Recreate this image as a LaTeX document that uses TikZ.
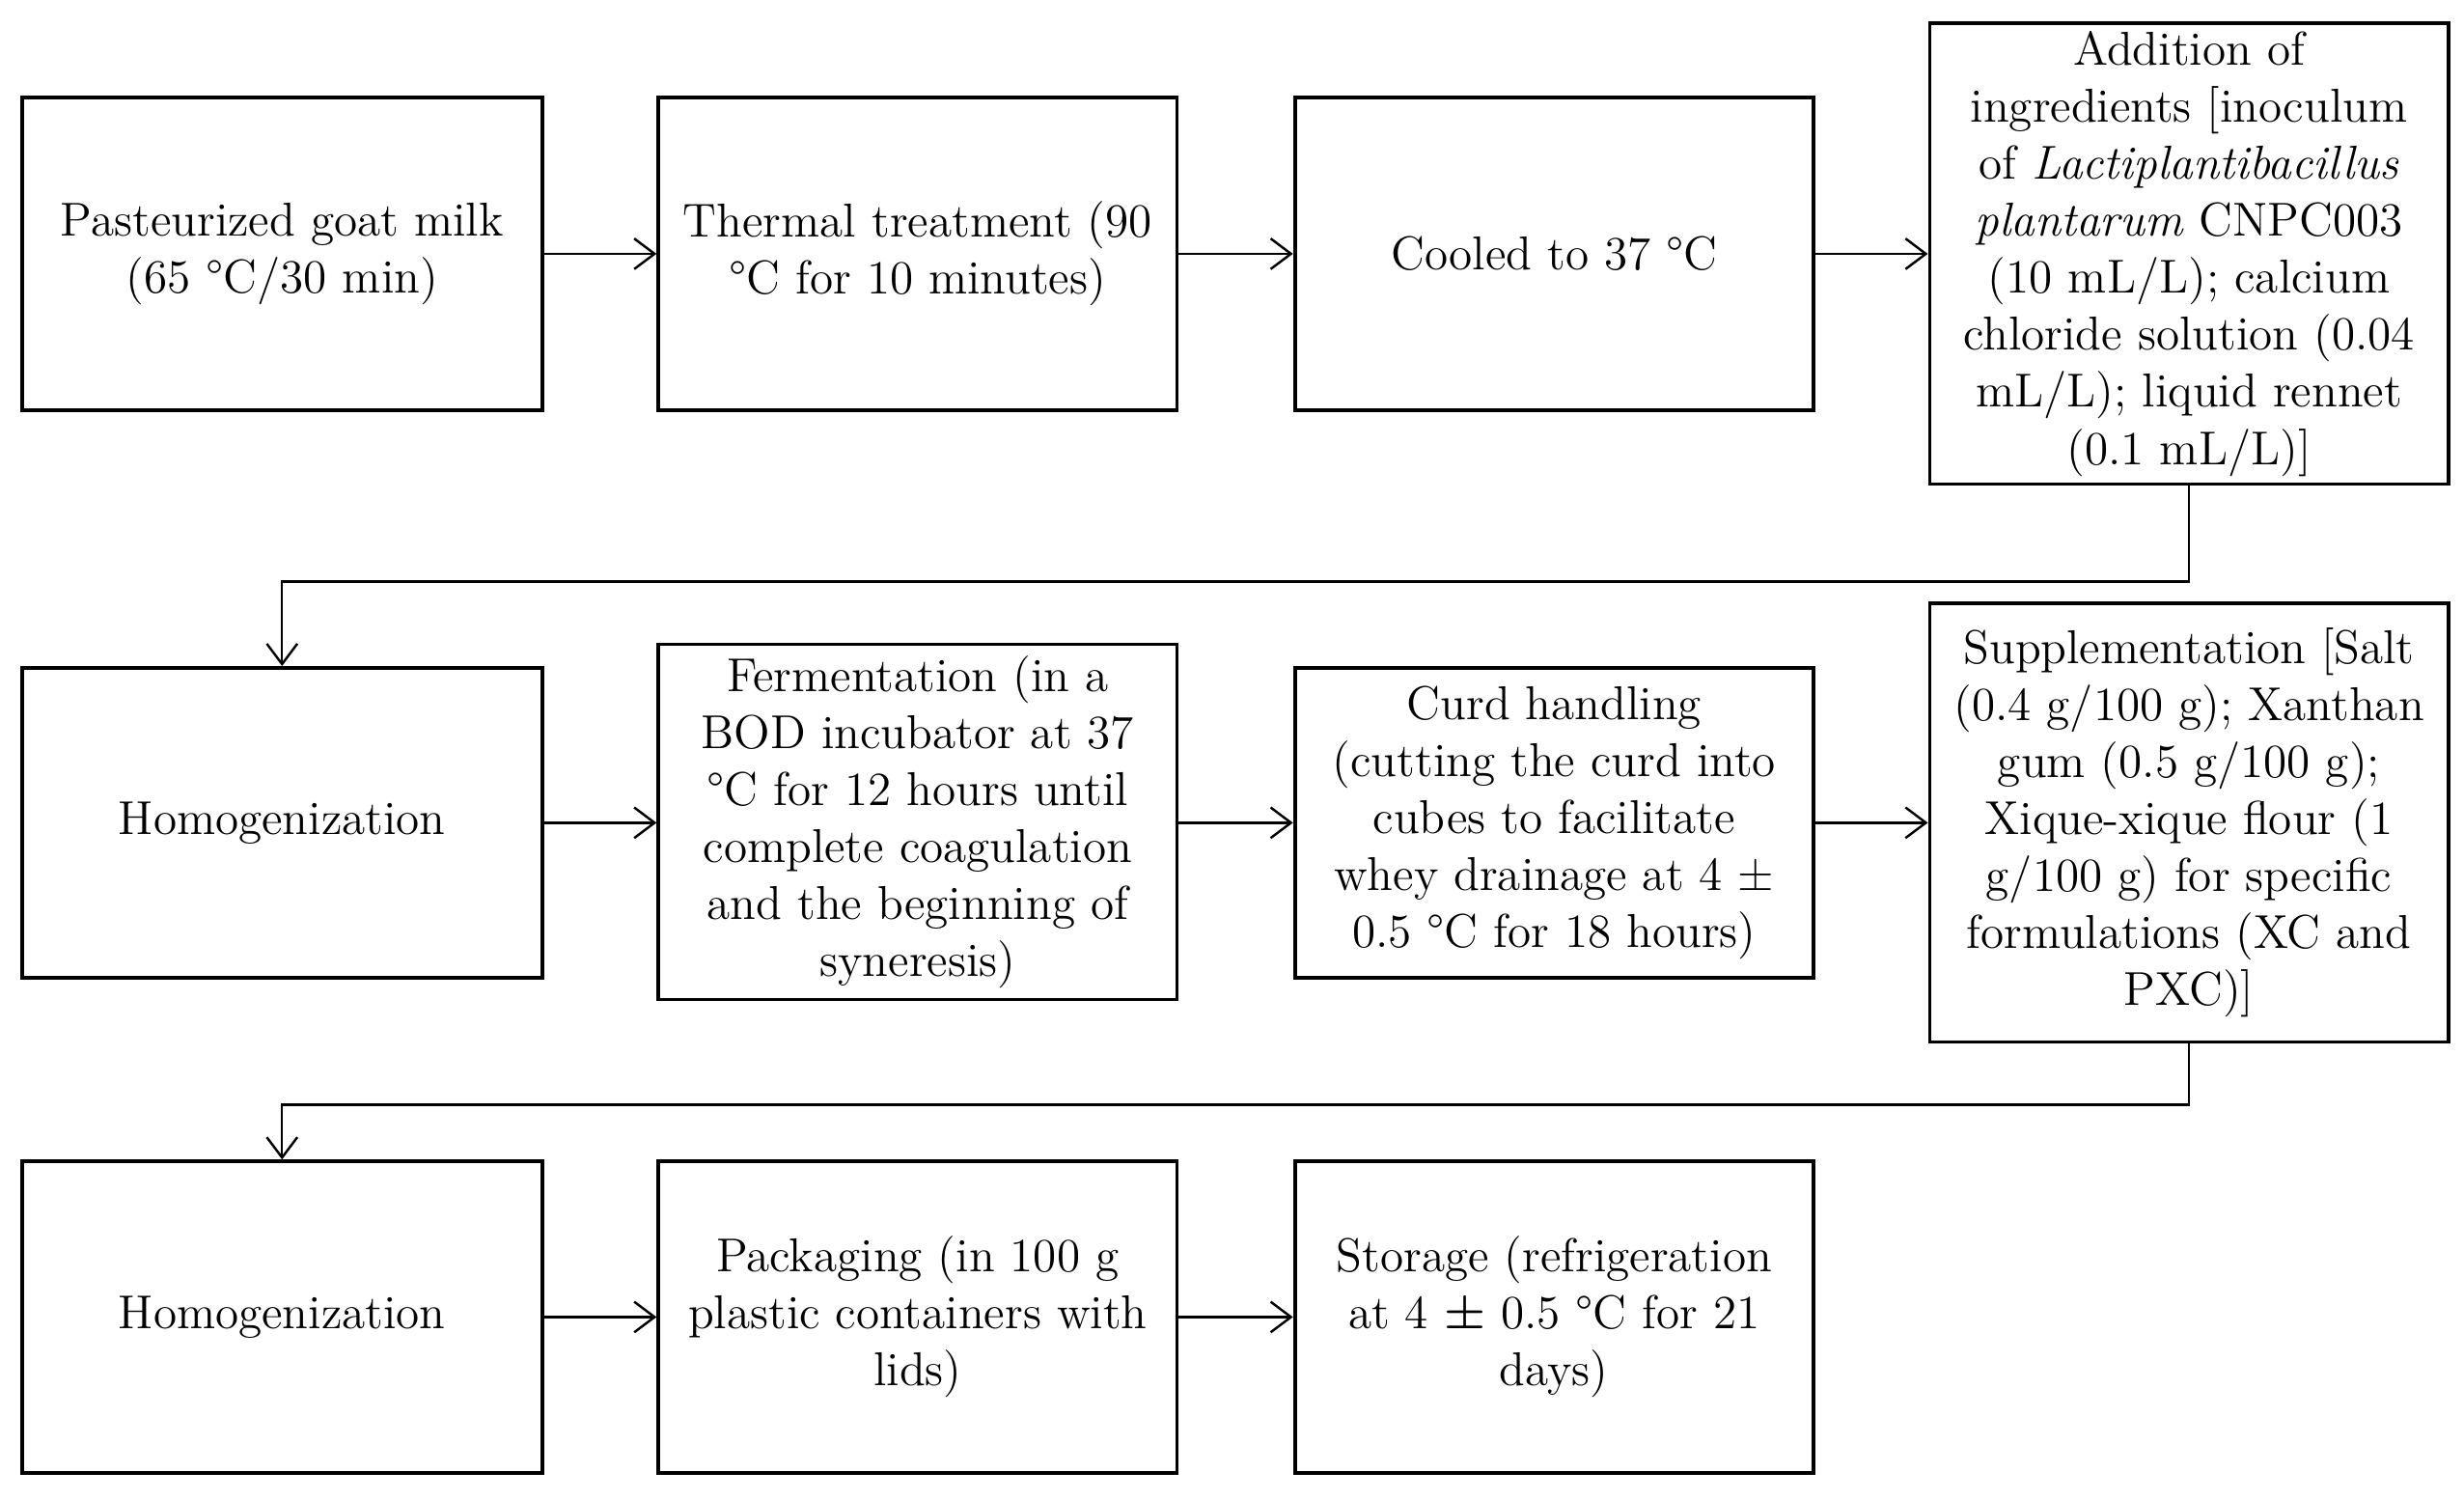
\documentclass[tikz,border=0pt]{standalone}
\usepackage{fontspec}
\usetikzlibrary{arrows.meta}
\begin{document}
\begin{tikzpicture}[x=0.01628cm,y=-0.01628cm,
 box/.style={draw,line width=1.1pt,align=center,inner sep=2pt,font=\fontsize{14}{16.8}\selectfont},
 arr/.style={-{Straight Barb[length=6pt,width=9pt]},line width=0.7pt}]
\useasboundingbox (0,0) rectangle (1568,954);
\newcommand\bx[6]{\node[box,minimum width=#4*0.01628cm,minimum height=#5*0.01628cm] (#1) at (#2,#3) {#6};}
\bx{b1}{179.5}{161.5}{331}{199}{Pasteurized goat milk\\(65 °C/30 min)}
\bx{b2}{584}{161.5}{330}{199}{Thermal treatment (90\\°C for 10 minutes)}
\bx{b3}{989}{161.5}{330}{199}{Cooled to 37 °C}
\bx{b4}{1393}{161.5}{330}{293}{Addition of\\ingredients [inoculum\\of \textit{Lactiplantibacillus}\\\textit{plantarum} CNPC003\\(10 mL/L); calcium\\chloride solution (0.04\\mL/L); liquid rennet\\(0.1 mL/L)]}
\bx{b5}{179.5}{523.5}{331}{197}{Homogenization}
\bx{b6}{584}{523}{330}{226}{Fermentation (in a\\BOD incubator at 37\\°C for 12 hours until\\complete coagulation\\and the beginning of\\syneresis)}
\bx{b7}{989}{523.5}{330}{197}{Curd handling\\(cutting the curd into\\cubes to facilitate\\whey drainage at 4 ±\\0.5 °C for 18 hours)}
\bx{b8}{1393}{523.5}{330}{279}{Supplementation [Salt\\(0.4 g/100 g); Xanthan\\gum (0.5 g/100 g);\\Xique-xique flour (1\\g/100 g) for specific\\formulations (XC and\\PXC)]}
\bx{b9}{179.5}{838}{331}{198}{Homogenization}
\bx{b10}{584}{838}{330}{198}{Packaging (in 100 g\\plastic containers with\\lids)}
\bx{b11}{989}{838}{330}{198}{Storage (refrigeration\\at 4 \textbf{±} 0.5 °C for 21\\days)}
\draw[arr] (b1) -- (b2);
\draw[arr] (b2) -- (b3);
\draw[arr] (b3) -- (b4.west |- b3);
\draw[arr] (b4.south) -- (b4.south |- 0,370) -| (b5.north);
\draw[arr] (b5) -- (b6.west |- b5);
\draw[arr] (b6.east |- b5) -- (b7);
\draw[arr] (b7) -- (b8.west |- b7);
\draw[arr] (b8.south) -- (b8.south |- 0,703) -| (b9.north);
\draw[arr] (b9) -- (b10);
\draw[arr] (b10) -- (b11);
\end{tikzpicture}
\end{document}
